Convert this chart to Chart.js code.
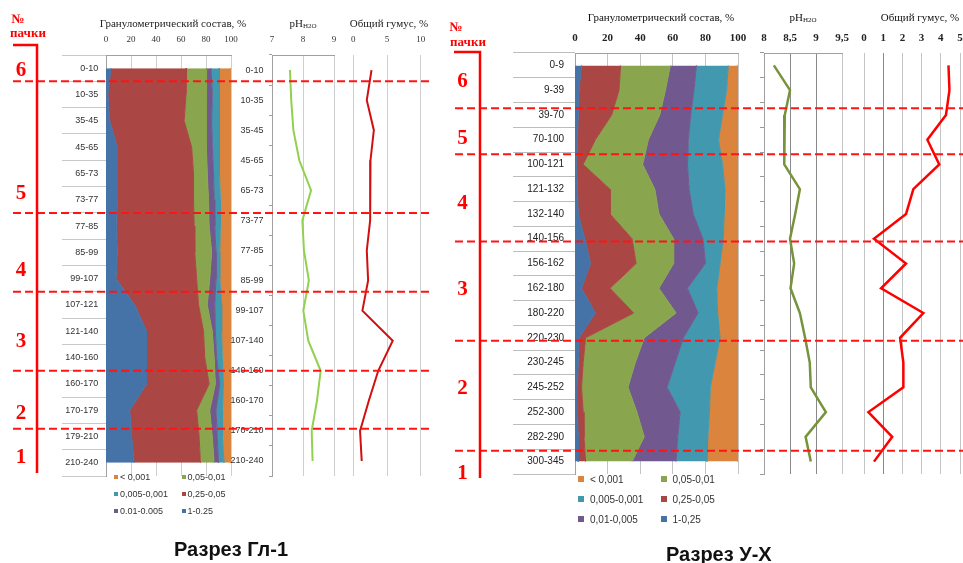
<!DOCTYPE html>
<html>
<head>
<meta charset="utf-8">
<script src="https://cdn.jsdelivr.net/npm/chart.js@4.4.1/dist/chart.umd.min.js"></script>
<style>
  body { margin: 0; background: #fff; }
  #page { position: relative; width: 963px; height: 563px; overflow: hidden; background: #fff; }
  canvas { position: absolute; top: 0; }
  .red { position: absolute; color: #ff0000; font-family: "Liberation Serif", serif; font-weight: bold; white-space: nowrap; transform: translate(-50%, -50%); }
  .num { font-size: 21px; }
  .caption { position: absolute; font: bold 20px "Liberation Sans", Arial, sans-serif; color: #111; white-space: nowrap; transform: translateY(-50%); }
  .legend { position: absolute; }
  .lg { position: absolute; white-space: nowrap; color: #333; }
  .lg i { display: inline-block; vertical-align: middle; }
  .lg span { vertical-align: middle; }
</style>
</head>
<body>
<div id="page">
  <canvas id="granL" width="215" height="490" style="left:40px"></canvas>
  <canvas id="phL" width="118" height="490" style="left:226px"></canvas>
  <canvas id="humL" width="88" height="490" style="left:344px"></canvas>
  <canvas id="granR" width="250" height="490" style="left:500px"></canvas>
  <canvas id="phR" width="100" height="490" style="left:750px"></canvas>
  <canvas id="humR" width="125" height="490" style="left:850px"></canvas>
  <canvas id="marks" width="963" height="563" style="left:0"></canvas>
  <div class="legend" id="legL" style="left:114px;top:471px"></div>
  <div class="legend" id="legR" style="left:578px;top:473px"></div>
  <div class="caption" style="left:174px;top:549px">Разрез Гл-1</div>
  <div class="caption" style="left:666px;top:554px">Разрез У-Х</div>
</div>
<script>
// ---- Разрез Гл-1 ----
const depthsL = ['0-10', '10-35', '35-45', '45-65', '65-73', '73-77', '77-85', '85-99', '99-107',
                 '107-121', '121-140', '140-160', '160-170', '170-179', '179-210', '210-240'];
const sandL      = [4, 1.5, 3, 9, 9, 9, 8.5, 9, 8, 23, 32.5, 32.5, 32.5, 19, 20.5, 22.5];
const fineSandL  = [60.5, 62.5, 59.5, 59.5, 61, 61, 62, 62, 64.5, 51, 45.5, 46.5, 50, 53.5, 54, 53];
const coarseSiltL = [16, 16.5, 17.5, 12, 11, 12, 12, 13.5, 10.5, 7, 7, 7.5, 5, 10.5, 10.5, 11];
const midSiltL   = [3.5, 4.5, 4.5, 4.5, 5, 4.5, 4.5, 3.5, 5, 6, 2.5, 2, 3.5, 5, 4, 3.5];
const fineSiltL  = [6.5, 5.5, 6, 6, 5, 5, 4.5, 3, 3, 5.5, 5, 4.5, 3, 5, 4, 4.5];
const clayL      = [9.5, 9.5, 9.5, 9, 9, 8.5, 8.5, 9, 9, 7.5, 7.5, 7, 6, 7, 7, 5.5];

const chemDepthsL = ['0-10', '10-35', '35-45', '45-65', '65-73', '73-77', '77-85', '85-99', '99-107',
                     '107-140', '140-160', '160-170', '170-210', '210-240'];
const phL    = [7.58, 7.62, 7.69, 7.88, 8.26, 7.98, 8.03, 8.19, 8.01, 8.17, 8.57, 8.45, 8.28, 8.31];
const humusL = [2.7, 2.0, 3.05, 2.55, 2.5, 2.5, 2.0, 2.2, 1.35, 5.85, 3.7, 2.3, 1.0, 1.25];

// ---- Разрез У-Х ----
const depthsR = ['0-9', '9-39', '39-70', '70-100', '100-121', '121-132', '132-140', '140-156', '156-162',
                 '162-180', '180-220', '220-230', '230-245', '245-252', '252-300', '282-290', '300-345'];
const sandR      = [4, 2.5, 2, 1.5, 1, 1.5, 2, 6, 9.5, 4, 12.5, 2.5, 2, 1.5, 1.5, 2, 2];
const fineSandR  = [24, 24.5, 20.5, 11, 4, 20, 19.5, 29, 28, 17.5, 23.5, 4, 3, 2.5, 3.5, 3.5, 4.5];
const coarseSiltR = [30.5, 28.5, 29.5, 32.5, 36.5, 27.5, 30, 25.5, 23, 30, 26, 36, 32, 28.5, 33, 37, 28.5];
const midSiltR   = [16, 17.5, 19, 24.5, 27.5, 21, 21, 18, 19.5, 17.5, 13.5, 24, 24.5, 24, 26.5, 20.5, 27];
const fineSiltR  = [19.5, 20, 19.5, 18.5, 21.5, 22, 19, 12.5, 9, 18, 12, 22.5, 24.5, 26.5, 18, 18.5, 19];
const clayR      = [6, 7, 9.5, 12, 9.5, 8, 8.5, 9, 11, 13, 12.5, 11, 14, 17, 17.5, 18.5, 19];
const phR    = [8.19, 8.5, 8.4, 8.39, 8.39, 8.69, 8.6, 8.5, 8.58, 8.51, 8.69, 8.79, 8.88, 8.9, 9.19, 8.8, 8.9];
const humusR = [4.4, 4.45, 4.27, 3.3, 3.92, 2.57, 2.19, 0.52, 2.19, 0.89, 3.09, 1.88, 2.05, 2.05, 0.23, 1.47, 0.52];

// fractions, from coarse (left) to fine (right)
const fractionLabelsL = ['1-0.25', '0,25-0,05', '0,05-0,01', '0.01-0.005', '0,005-0,001', '< 0,001'];
const fractionLabelsR = ['1-0,25', '0,25-0,05', '0,05-0,01', '0,01-0,005', '0,005-0,001', '< 0,001'];
const fractionColors  = ['#4572A7', '#AA4643', '#89A54E', '#71588F', '#4198AF', '#DB843D'];

// tick labels
const granTicks = [0, 20, 40, 60, 80, 100];
const phTicksL = [7, 8, 9];
const humusTicksL = [0, 5, 10];
const phTicksR = [8, 8.5, 9, 9.5];
const humusTicksR = [0, 1, 2, 3, 4, 5];

// pack boundaries, in row units of the granulometric axis
const packsL = [0.5, 5.5, 8.5, 11.5, 13.7];
const packsR = [1.73, 3.59, 7.11, 11.12, 15.56];
const packNames = ['6', '5', '4', '3', '2', '1'];

Chart.defaults.font.family = '"Liberation Sans", Arial, sans-serif';
Chart.defaults.color = '#333';

const serif = '"Liberation Serif", "Times New Roman", serif';

// column title above the axis (no squeezing to the plot width, optional small index)
const colTitlePlugin = {
  id: 'colTitle',
  afterDraw(chart, args, o) {
    if (!o.text) return;
    const {ctx, chartArea: a} = chart;
    const main = `${o.size}px ${serif}`;
    const sub = `${Math.round(o.size * 0.64)}px ${serif}`;
    ctx.save();
    ctx.fillStyle = o.color;
    ctx.textBaseline = 'alphabetic';
    ctx.font = main;
    const w1 = ctx.measureText(o.text).width;
    ctx.font = sub;
    const w2 = o.sub ? ctx.measureText(o.sub).width : 0;
    const x = (a.left + a.right) / 2 + (o.dx || 0) - (w1 + w2) / 2;
    ctx.font = main;
    ctx.fillText(o.text, x, o.y);
    if (o.sub) {
      ctx.font = sub;
      ctx.fillText(o.sub, x + w1, o.y + 1);
    }
    ctx.restore();
  }
};

function catAxis(labels, o) {
  return {
    type: 'category', labels, offset: true,
    display: o.display !== false,
    afterFit: s => { s.width = o.width; },
    grid: {offset: true, drawOnChartArea: false, drawTicks: o.tick > 0, tickLength: o.tick, color: o.gridColor || '#c8c8c8'},
    border: {display: !!o.border, color: '#a0a0a0'},
    ticks: {display: !!o.font, autoSkip: false, padding: o.pad || 0, color: o.color || '#333', font: o.font}
  };
}

// the gap between tick labels and the plot is an invisible tick mark,
// so it does not widen the horizontal padding of the scale
function valAxis(min, max, tickVals, o) {
  return {
    type: 'linear', position: 'top', min, max, stacked: !!o.stacked,
    afterBuildTicks: s => { s.ticks = tickVals.map(v => ({value: v})); },
    afterFit: s => { s.height = o.height; },
    grid: {drawTicks: true, tickLength: o.gap, tickColor: 'rgba(0,0,0,0)', color: o.gridColor || '#c8c8c8'},
    border: {display: o.border !== false, color: '#a0a0a0'},
    ticks: {padding: 0, color: o.color || '#333', font: o.font, callback: v => String(v).replace('.', ',')}
  };
}

function makeChart(id, cfg) {
  return new Chart(document.getElementById(id), {
    type: 'line',
    data: {labels: cfg.y.labels, datasets: cfg.datasets},
    options: {
      indexAxis: 'y', responsive: false, animation: false, events: [],
      layout: {padding: cfg.pad},
      elements: {point: {radius: 0}, line: {tension: 0}},
      plugins: {legend: {display: false}, tooltip: {enabled: false}, colTitle: cfg.title},
      scales: {x: cfg.x, y: cfg.y}
    },
    plugins: [colTitlePlugin]
  });
}

function stackSets(series, labels) {
  return series.map((data, i) => ({
    label: labels[i], data,
    backgroundColor: fractionColors[i], borderColor: fractionColors[i], borderWidth: 1,
    fill: i === 0 ? 'origin' : '-1'
  }));
}

function lineSet(data, color, width) {
  return [{data, borderColor: color, borderWidth: width, fill: false}];
}

// ---------- left section ----------
const smallSerifL = {family: serif, size: 9};
const labelFontL = {family: '"Liberation Sans", sans-serif', size: 9};
const titleL = {size: 11, color: '#222', y: 26.5};

const setsL = stackSets([sandL, fineSandL, coarseSiltL, midSiltL, fineSiltL, clayL], fractionLabelsL);
const granL = makeChart('granL', {
  pad: {left: 22, right: 24, top: 0, bottom: 14},
  datasets: setsL,
  title: {...titleL, text: 'Гранулометрический состав, %', dx: 4.5},
  x: valAxis(0, 100, granTicks, {stacked: true, height: 55, gap: 10.3, font: smallSerifL, gridColor: '#cfcfcf'}),
  y: catAxis(depthsL, {width: 44, tick: 44, pad: -36.3, border: true, font: labelFontL, color: '#333'})
});

makeChart('phL', {
  pad: {left: 0, right: 10, top: 0, bottom: 14},
  datasets: lineSet(phL, '#92D050', 2),
  title: {...titleL, text: 'pH', sub: 'H2O'},
  x: valAxis(7, 9, phTicksL, {height: 55, gap: 10.3, font: smallSerifL, gridColor: '#cfcfcf'}),
  y: catAxis(chemDepthsL, {width: 46, tick: 3, pad: 5.5, border: true, font: labelFontL, gridColor: '#a0a0a0'})
});

makeChart('humL', {
  pad: {left: 9.3, right: 11.3, top: 0, bottom: 14},
  datasets: lineSet(humusL, '#D01010', 2),
  title: {...titleL, text: 'Общий гумус, %', dx: 2},
  x: valAxis(0, 10, humusTicksL, {height: 55, gap: 10.3, font: smallSerifL, border: false, gridColor: '#cfcfcf'}),
  y: catAxis(chemDepthsL, {display: false, width: 0, tick: 0})
});

// ---------- right section ----------
const boldSerifR = {family: serif, size: 11, weight: 'bold'};
const labelFontR = {family: '"Liberation Sans", sans-serif', size: 10};
const titleR = {size: 11, color: '#111', y: 21};

const setsR = stackSets([sandR, fineSandR, coarseSiltR, midSiltR, fineSiltR, clayR], fractionLabelsR);
const granR = makeChart('granR', {
  pad: {left: 13, right: 12, top: 0, bottom: 16},
  datasets: setsR,
  title: {...titleR, text: 'Гранулометрический состав, %', dx: 4.5},
  x: valAxis(0, 100, granTicks, {stacked: true, height: 53, gap: 8.1, font: boldSerifR, color: '#222', gridColor: '#c4c4c4'}),
  y: catAxis(depthsR, {width: 62, tick: 62, pad: -51, border: true, font: labelFontR, color: '#222', gridColor: '#bdbdbd'})
});

makeChart('phR', {
  pad: {left: 10, right: 8, top: 0, bottom: 16},
  datasets: lineSet(phR, '#77933C', 2.5),
  title: {...titleR, text: 'pH', sub: 'H2O'},
  x: valAxis(8, 9.5, phTicksR, {height: 53, gap: 8.1, font: boldSerifR, color: '#222',
    gridColor: c => (c.tick && (c.tick.value === 8.5 || c.tick.value === 9)) ? '#8a8a8a' : '#c4c4c4'}),
  y: catAxis(depthsR, {width: 4, tick: 4, border: true, gridColor: '#9a9a9a'})
});

makeChart('humR', {
  pad: {left: 14, right: 15, top: 0, bottom: 16},
  datasets: lineSet(humusR, '#FF0000', 2.5),
  title: {...titleR, text: 'Общий гумус, %', dx: 8},
  x: valAxis(0, 5, humusTicksR, {height: 53, gap: 8.1, font: boldSerifR, color: '#222', border: false,
    gridColor: c => (c.tick && c.tick.value === 1) ? '#8a8a8a' : '#c4c4c4'}),
  y: catAxis(depthsR, {display: false, width: 0, tick: 0})
});

// ---------- legends ----------
function buildLegend(id, sets, o) {
  const el = document.getElementById(id);
  sets.slice().reverse().forEach((d, k) => {
    const item = document.createElement('div');
    item.className = 'lg';
    item.style.left = Math.floor(k / 3) * o.colW + 'px';
    item.style.top = (k % 3) * o.rowH + 'px';
    item.style.height = item.style.lineHeight = o.rowH + 'px';
    item.style.font = o.font;
    const box = document.createElement('i');
    box.style.width = box.style.height = o.box + 'px';
    box.style.marginRight = o.gap + 'px';
    box.style.background = d.backgroundColor;
    const txt = document.createElement('span');
    txt.textContent = d.label;
    item.appendChild(box);
    item.appendChild(txt);
    el.appendChild(item);
  });
}
buildLegend('legL', setsL, {colW: 67.5, rowH: 17, box: 4, gap: 2, font: '9px "Liberation Sans", sans-serif'});
buildLegend('legR', setsR, {colW: 82.5, rowH: 20, box: 6, gap: 6, font: '10px "Liberation Sans", sans-serif'});

// ---------- pack marks ----------
const marks = document.getElementById('marks').getContext('2d');
marks.strokeStyle = '#ff1414';
marks.lineWidth = 2;
marks.setLineDash([8, 4]);
function dashed(scale, bounds, x1, x2) {
  bounds.forEach(b => {
    const y = scale.getPixelForValue(b);
    marks.beginPath();
    marks.moveTo(x1, y);
    marks.lineTo(x2, y);
    marks.stroke();
  });
}
dashed(granL.scales.y, packsL, 13, 430);
dashed(granR.scales.y, packsR, 455, 963);

marks.setLineDash([]);
marks.lineWidth = 2.5;
marks.strokeStyle = '#ff0000';
marks.beginPath();
marks.moveTo(13, 45); marks.lineTo(37, 45); marks.lineTo(37, 473);
marks.moveTo(454, 52); marks.lineTo(480, 52); marks.lineTo(480, 478);
marks.stroke();

function addRed(text, x, y, cls, size) {
  const d = document.createElement('div');
  d.className = 'red ' + (cls || '');
  if (size) d.style.fontSize = size + 'px';
  d.style.left = x + 'px';
  d.style.top = y + 'px';
  d.textContent = text;
  document.getElementById('page').appendChild(d);
}
const numYL = [69, 191.7, 269, 340, 411.7, 455.7];
const numYR = [80, 136.7, 201.7, 288.3, 386.7, 471.7];
packNames.forEach((n, i) => {
  addRed(n, 21, numYL[i], 'num');
  addRed(n, 462.5, numYR[i], 'num');
});
addRed('№', 18, 18.5, '', 13);
addRed('пачки', 28, 32.5, '', 13);
addRed('№', 456, 26.7, '', 13);
addRed('пачки', 468, 41.7, '', 13);
</script>
</body>
</html>
